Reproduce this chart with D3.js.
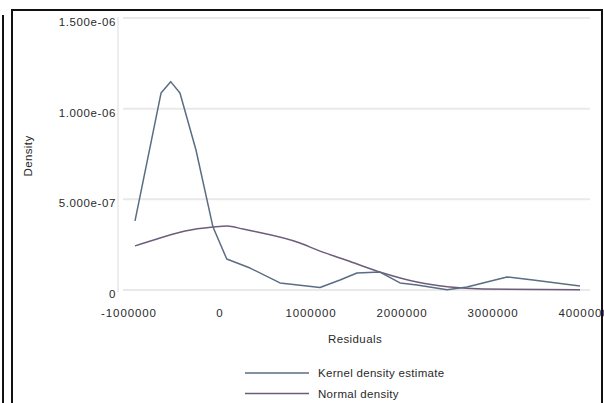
<!DOCTYPE html>
<html>
<head>
<meta charset="utf-8">
<script src="https://cdn.jsdelivr.net/npm/d3@7"></script>
<style>
  body { margin: 0; background: #fff; }
  svg text { font-family: "Liberation Sans", Arial, sans-serif; fill: #2a2a2a; }
</style>
</head>
<body>
<div id="chart"></div>
<script>
// residual values (x) and densities
var kernelX = [-934000, -791000, -648000, -542000, -440000, -264000, -77000, 74000, 330000,
               659000, 1099000, 1319000, 1505000, 1758000, 1978000, 2165000, 2495000,
               2714000, 3154000, 3440000, 3956000];
var kernelY = [3.81e-7, 7.33e-7, 1.086e-6, 1.149e-6, 1.086e-6, 7.72e-7, 3.47e-7, 1.71e-7, 1.21e-7,
               3.9e-8, 1.4e-8, 5.5e-8, 9.4e-8, 9.9e-8, 3.9e-8, 2.8e-8, 2e-9,
               1.7e-8, 7.2e-8, 5.5e-8, 2.2e-8];

var normalX = [-934000, -659000, -385000, -77000, 77000, 253000, 330000, 879000, 1066000,
               1429000, 1791000, 2165000, 2527000, 2890000, 3956000];
var normalY = [2.43e-7, 2.87e-7, 3.25e-7, 3.47e-7, 3.53e-7, 3.36e-7, 3.28e-7, 2.59e-7, 2.21e-7,
               1.57e-7, 9.4e-8, 4.4e-8, 1.65e-8, 5.5e-9, 1e-9];

var xTicks = [-1000000, 0, 1000000, 2000000, 3000000, 4000000];
var yTicks = [0, 5e-7, 1e-6, 1.5e-6];
var yTickLabels = ["0", "5.000e-07", "1.000e-06", "1.500e-06"];

var seriesNames = ["Kernel density estimate", "Normal density"];
var seriesColors = ["#5a6d84", "#6c5d7a"];

var width = 604, height = 403;

var svg = d3.select("#chart").append("svg")
    .attr("width", width)
    .attr("height", height);

// frame of the neighbouring figure and of this one
svg.append("line")
    .attr("x1", 3).attr("x2", 3).attr("y1", 15).attr("y2", height)
    .style("stroke", "#111").style("stroke-width", 2);
svg.append("rect")
    .attr("x", 12).attr("y", 10).attr("width", 590).attr("height", 420)
    .style("fill", "#fff").style("stroke", "#111").style("stroke-width", 2);

var x = d3.scaleLinear().domain([-1000000, 4000000]).range([129, 584]);
var y = d3.scaleLinear().domain([0, 1.5e-6]).range([290, 18]);

// gridlines
svg.append("g").selectAll("line")
    .data(yTicks)
    .enter()
    .append("line")
    .attr("x1", 123).attr("x2", 590)
    .attr("y1", function(d){ return y(d); })
    .attr("y2", function(d){ return y(d); })
    .style("stroke", "#e9e9e9")
    .style("stroke-width", 2);

// y axis line
svg.append("line")
    .attr("x1", 118).attr("x2", 118).attr("y1", 17).attr("y2", 292)
    .style("stroke", "#dcdcdc").style("stroke-width", 1);

// y tick labels
svg.append("g").selectAll("text")
    .data(yTicks)
    .enter()
    .append("text")
    .attr("x", 116)
    .attr("y", function(d){ return y(d) + 8; })
    .attr("text-anchor", "end")
    .style("font-size", "11.5px")
    .style("letter-spacing", "0.6px")
    .text(function(d, i){ return yTickLabels[i]; });

// x tick labels (plain hyphen for the minus, as in the original)
svg.append("g").selectAll("text")
    .data(xTicks)
    .enter()
    .append("text")
    .attr("x", function(d){ return x(d); })
    .attr("y", 317)
    .attr("text-anchor", "middle")
    .style("font-size", "11.5px")
    .style("letter-spacing", "0.9px")
    .text(function(d){ return String(d); });

// axis titles
svg.append("text")
    .attr("x", 355).attr("y", 343)
    .attr("text-anchor", "middle")
    .style("font-size", "11.5px")
    .style("letter-spacing", "0.4px")
    .text("Residuals");

svg.append("text")
    .attr("transform", "translate(32,156) rotate(-90)")
    .attr("text-anchor", "middle")
    .style("font-size", "11.5px")
    .style("letter-spacing", "0.4px")
    .text("Density");

// density lines
var kernelData = kernelX.map(function(v, i){ return [v, kernelY[i]]; });
var normalData = normalX.map(function(v, i){ return [v, normalY[i]]; });

var kernelLine = d3.line()
    .x(function(d){ return x(d[0]); })
    .y(function(d){ return y(d[1]); });

var normalLine = d3.line()
    .x(function(d){ return x(d[0]); })
    .y(function(d){ return y(d[1]); })
    .curve(d3.curveMonotoneX);

svg.append("path")
    .attr("d", normalLine(normalData))
    .style("fill", "none")
    .style("stroke", seriesColors[1])
    .style("stroke-width", 1.5);

svg.append("path")
    .attr("d", kernelLine(kernelData))
    .style("fill", "none")
    .style("stroke", seriesColors[0])
    .style("stroke-width", 1.5)
    .style("stroke-linejoin", "round");

// legend
var legend = svg.append("g").selectAll("g")
    .data(seriesNames)
    .enter()
    .append("g")
    .attr("transform", function(d, i){ return "translate(0," + (373 + i * 20.5) + ")"; });

legend.append("line")
    .attr("x1", 245).attr("x2", 309)
    .style("stroke", function(d, i){ return seriesColors[i]; })
    .style("stroke-width", 1.5);

legend.append("text")
    .attr("x", 318).attr("y", 4)
    .style("font-size", "11.5px")
    .style("letter-spacing", "0.3px")
    .text(function(d){ return d; });
</script>
</body>
</html>
